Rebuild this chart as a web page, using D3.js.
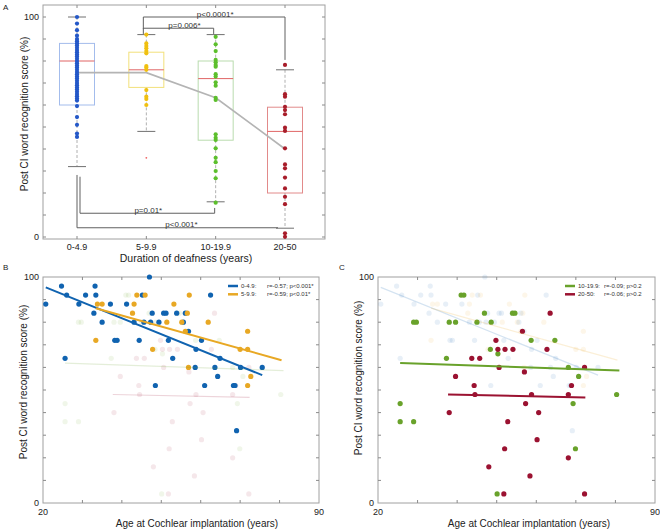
<!DOCTYPE html>
<html><head><meta charset="utf-8">
<script src="https://cdn.jsdelivr.net/npm/d3@7"></script>
<style>body{margin:0;background:#fff}svg{display:block;font-family:"Liberation Sans",Arial,sans-serif}</style>
</head><body><svg id="c" width="660" height="529"></svg>
<script>
// ---------- Panel A data ----------
const groups = ["0-4.9", "5-9.9", "10-19.9", "20-50"];
const dotsA = [
  [100, 97, 94, 91.5, 90, 89, 88, 87, 86, 85, 84, 83, 82, 81, 80, 79, 78, 77, 76, 75, 74, 73, 72, 71, 70, 69, 68, 67, 66, 65, 64, 63, 62, 59.5, 54.5, 51, 47, 45.5],
  [92, 88, 86.8, 85.8, 84.5, 83.5, 77.7, 77, 76, 66.8, 63.8, 62.7, 60],
  [91, 87.6, 84.5, 80.5, 79.4, 78.2, 77.4, 74, 72.9, 70.3, 68.8, 63.3, 62.3, 46.7, 45.1, 44.1, 40.3, 36, 34, 30, 26.7, 15.6],
  [78.2, 64.9, 63.8, 59.2, 57.7, 55.8, 49.7, 48.2, 40.3, 33, 31.2, 27, 22.1, 18.3, 14.9, 1.7, 0.1]
];
const lowerWhisker = [32, 48, 16, 4];
const q1 = [60, 68, 44, 20];
const medians = [80, 76, 72, 48];
const q3 = [88, 84, 80, 59];
const upperWhisker = [100, 92, 92, 76];
const outliers = [[], [36], [], []];
const means = [74.7, 74.7, 63.3, 40];
// brackets: from group, to group, line level, left drop end, right drop end (null = none), label
const bracketFrom = [1, 1, 0, 0];
const bracketTo = [3, 2, 2, 3];
const bracketLevel = [100, 94.9, 10.8, 4.2];
const bracketDropL = [94.5, 92.3, 27.4, 28.2];
const bracketDropR = [80.5, 92.3, 13.2, null];
const bracketLabel = ["p<0.0001*", "p=0.006*", "p=0.01*", "p<0.001*"];

// ---------- Panels B/C data (age, score) ----------
const ageG1 = [20.7,24.7,26,25.6,29.1,30.8,33.2,33.4,32.9,35,37.1,38.2,38.8,41.2,43.1,44.4,45.2,45.6,47,47.3,47.7,48.5,49.4,50.6,51.2,51.8,52.9,53.9,55.6,56.1,56.9,58.8,58.6,60.2,61,62.5,63.6,64.3,64.9,68.3,68.7,69.1,70.1,75.6];
const scoreG1 = [88,96,92,64,88,92,96,92,84,80,88,72,72,88,80,72,92,80,100,80,84,52,80,84,84,72,64,84,80,84,76,68,60,72,52,92,60,56,64,52,52,32,60,60];
const ageG2 = [33.8,35,33.4,42.7,43.1,43.8,45.9,47.8,51.4,53.2,55.2,56.1,56.6,56.9,57.1,61.9,70,71.9,71.9,71.9,72.7];
const scoreG2 = [88,88,72,84,88,92,92,68,80,88,80,76,84,60,92,80,68,76,68,52,56];
const ageG3 = [25.6,25.6,29,29,29.7,37.3,38,39.6,41,41.7,45,46.9,48.6,48.4,50.3,50.1,54,54.6,58.7,64.7,68.1,70.7,69.3,69.9,80.3];
const scoreG3 = [44,36,36,80,80,64,80,80,92,92,80,84,80,68,66,4,84,84,72,72,60,56,44,24,48];
const ageG4 = [38,39.6,43.7,44.3,44.5,45.7,48,49.8,50.3,50.6,51.8,52,52.1,52.8,54.1,56.5,57,57.3,58.4,58.8,60.2,60.6,62.7,63.5,68.1,68.1,68.9,72.2,72.2];
const scoreG4 = [40,56,64,52,48,64,16,72,68,60,4,24,68,36,68,76,58,44,12,48,28,40,68,84,20,48,52,60,4];
// regression line ends
const fitAgeStart = [20.7, 33.4, 25.6, 37.7];
const fitAgeEnd = [75.6, 80.5, 81, 72.4];
const fitScoreStart = [95.4, 86.2, 61.9, 48];
const fitScoreEnd = [56.6, 63.2, 58.6, 46.7];
const legendR = ["r=-0.57; p<0.001*", "r=-0.59; p<0.01*", "r=-0.09; p>0.2", "r=-0.06; p>0.2"];

const colorsA = ["#2458c8", "#f0c010", "#5cbf2c", "#a81d2a"];
const boxColors = ["#a3bcec", "#f2e07a", "#b9dcae", "#e28a8a"];
const colorsB = ["#1063b0", "#e8a824", "#69a22b", "#9b1231"];

const svg = d3.select("#c");
const frameCol = "#a0a0a0", tickCol = "#8a8a8a";

// ================= Panel A =================
(function(){
  const L = 43, R = 325, T = 5, B = 239;
  const x = d3.scalePoint().domain(groups).range([77, 285]);
  const y = d3.scaleLinear().domain([0, 100]).range([237, 17]);
  const g = svg.append("g");
  g.append("text").attr("x", 3).attr("y", 10).attr("font-size", 8).attr("fill", "#222").text("A");
  g.append("rect").attr("x", L).attr("y", T).attr("width", R - L).attr("height", B - T).attr("fill", "none").attr("stroke", frameCol);
  // ticks
  d3.range(0, 101, 10).forEach(v => {
    g.append("line").attr("x1", L).attr("x2", L + 3).attr("y1", y(v)).attr("y2", y(v)).attr("stroke", tickCol);
    g.append("line").attr("x1", R).attr("x2", R - 3).attr("y1", y(v)).attr("y2", y(v)).attr("stroke", tickCol);
  });
  groups.forEach(c => {
    g.append("line").attr("x1", x(c)).attr("x2", x(c)).attr("y1", T).attr("y2", T + 3).attr("stroke", tickCol);
    g.append("line").attr("x1", x(c)).attr("x2", x(c)).attr("y1", B).attr("y2", B - 3).attr("stroke", tickCol);
    g.append("text").attr("x", x(c)).attr("y", 250).attr("text-anchor", "middle").attr("font-size", 9).attr("fill", "#222").text(c);
  });
  [0, 100].forEach(v => g.append("text").attr("x", 39).attr("y", y(v) + 3).attr("text-anchor", "end").attr("font-size", 9).attr("fill", "#222").text(v));
  g.append("text").attr("x", 186).attr("y", 262).attr("text-anchor", "middle").attr("font-size", 10.5).attr("fill", "#222").text("Duration of deafness (years)");
  g.append("text").attr("transform", "translate(28,114) rotate(-90)").attr("text-anchor", "middle").attr("font-size", 10).attr("fill", "#222").text("Post CI word recognition score (%)");

  const hw = 17.5;
  groups.forEach((c, i) => {
    const cx = x(c);
    g.append("line").attr("x1", cx).attr("x2", cx).attr("y1", y(upperWhisker[i])).attr("y2", y(q3[i])).attr("stroke", "#b0b0b0").attr("stroke-dasharray", "3,2");
    g.append("line").attr("x1", cx).attr("x2", cx).attr("y1", y(q1[i])).attr("y2", y(lowerWhisker[i])).attr("stroke", "#b0b0b0").attr("stroke-dasharray", "3,2");
    [upperWhisker[i], lowerWhisker[i]].forEach(v =>
      g.append("line").attr("x1", cx - 9).attr("x2", cx + 9).attr("y1", y(v)).attr("y2", y(v)).attr("stroke", "#707070"));
    g.append("rect").attr("x", cx - hw).attr("y", y(q3[i])).attr("width", 2 * hw).attr("height", y(q1[i]) - y(q3[i]))
      .attr("fill", "none").attr("stroke", boxColors[i]);
    g.append("line").attr("x1", cx - hw).attr("x2", cx + hw).attr("y1", y(medians[i])).attr("y2", y(medians[i])).attr("stroke", "#e06565");
    outliers[i].forEach(v => g.append("circle").attr("cx", cx).attr("cy", y(v)).attr("r", 0.9).attr("fill", "#f06060"));
  });
  // mean line
  g.append("path").datum(means).attr("fill", "none").attr("stroke", "#b4b4b4").attr("stroke-width", 1.6)
    .attr("d", d3.line().x((d, i) => x(groups[i])).y(d => y(d)));
  // dots
  groups.forEach((c, i) => {
    g.selectAll(null).data(dotsA[i]).join("circle").attr("cx", x(c)).attr("cy", d => y(d)).attr("r", 2.1).attr("fill", colorsA[i]);
  });
  // brackets
  bracketLabel.forEach((lab, k) => {
    const off = k < 2 ? -3 : 3;
    const x1 = x(groups[bracketFrom[k]]) + (k === 3 ? 0 : off);
    const x2 = x(groups[bracketTo[k]]) + (k === 1 ? -2 : (k === 2 ? -1 : (k === 3 ? -7 : 0)));
    const yl = y(bracketLevel[k]);
    let p = `M${x1},${y(bracketDropL[k])}V${yl}H${x2}`;
    if (bracketDropR[k] !== null) p += `V${y(bracketDropR[k])}`;
    g.append("path").attr("d", p).attr("fill", "none").attr("stroke", "#606060").attr("stroke-width", 1);
    g.append("text").attr("x", (x1 + x2) / 2 + (k === 1 ? 6 : (k === 3 ? 4 : 1))).attr("y", yl - 0.5).attr("text-anchor", "middle")
      .attr("font-size", 8).attr("fill", "#333").text(lab);
  });
})();

// ================= Panels B and C =================
const ages = [ageG1, ageG2, ageG3, ageG4];
const scores = [scoreG1, scoreG2, scoreG3, scoreG4];
function scatterPanel(L, R, letter, lx, vivid, legendX, titleX, yTitleX, yTitleY) {
  const T = 277, B = 503;
  const x = d3.scaleLinear().domain([20, 90]).range([L, R]);
  const y = d3.scaleLinear().domain([0, 100]).range([B, T]);
  const g = svg.append("g");
  g.append("text").attr("x", lx).attr("y", 270).attr("font-size", 8).attr("fill", "#222").text(letter);
  g.append("rect").attr("x", L).attr("y", T).attr("width", R - L).attr("height", B - T).attr("fill", "none").attr("stroke", frameCol);
  d3.range(10, 100, 10).forEach(v => {
    g.append("line").attr("x1", L).attr("x2", L + 3).attr("y1", y(v)).attr("y2", y(v)).attr("stroke", tickCol);
    g.append("line").attr("x1", R).attr("x2", R - 3).attr("y1", y(v)).attr("y2", y(v)).attr("stroke", tickCol);
  });
  d3.range(30, 90, 10).forEach(v => {
    g.append("line").attr("x1", x(v)).attr("x2", x(v)).attr("y1", B).attr("y2", B - 3).attr("stroke", tickCol);
    g.append("line").attr("x1", x(v)).attr("x2", x(v)).attr("y1", T).attr("y2", T + 3).attr("stroke", tickCol);
  });
  g.append("text").attr("x", L - 4).attr("y", y(100) + 3).attr("text-anchor", "end").attr("font-size", 9).attr("fill", "#222").text("100");
  g.append("text").attr("x", L - 4).attr("y", y(0) + 3).attr("text-anchor", "end").attr("font-size", 9).attr("fill", "#222").text("0");
  [20, 90].forEach(v => g.append("text").attr("x", x(v)).attr("y", 515).attr("text-anchor", "middle").attr("font-size", 9).attr("fill", "#222").text(v));
  g.append("text").attr("x", titleX).attr("y", 527).attr("text-anchor", "middle").attr("font-size", 10).attr("fill", "#222").text("Age at Cochlear implantation (years)");
  g.append("text").attr("transform", `translate(${yTitleX},${yTitleY}) rotate(-90)`).attr("text-anchor", "middle").attr("font-size", 10).attr("fill", "#222").text("Post CI word recognition score (%)");

  const order = [0, 1, 2, 3].filter(i => !vivid.includes(i)).concat(vivid);
  order.forEach(i => {
    const on = vivid.includes(i);
    const pts = ages[i].map((a, j) => [a, scores[i][j]]);
    g.selectAll(null).data(pts).join("circle").attr("cx", d => x(d[0])).attr("cy", d => y(d[1])).attr("r", 2.6)
      .attr("fill", colorsB[i]).attr("fill-opacity", on ? 1 : 0.1);
  });
  order.forEach(i => {
    const on = vivid.includes(i);
    g.append("line").attr("x1", x(fitAgeStart[i])).attr("y1", y(fitScoreStart[i])).attr("x2", x(fitAgeEnd[i])).attr("y2", y(fitScoreEnd[i]))
      .attr("stroke", colorsB[i]).attr("stroke-width", on ? 2 : 1.2).attr("stroke-opacity", on ? 1 : 0.18);
  });
  vivid.forEach((i, k) => {
    const ly = 286 + k * 8.3;
    g.append("line").attr("x1", legendX).attr("x2", legendX + 10).attr("y1", ly).attr("y2", ly).attr("stroke", colorsB[i]).attr("stroke-width", 2.5);
    g.append("text").attr("x", legendX + 13).attr("y", ly + 2).attr("font-size", 6).attr("fill", "#333").text(groups[i] + ":");
    g.append("text").attr("x", legendX + 39).attr("y", ly + 2).attr("font-size", 6).attr("fill", "#333").text(legendR[i]);
  });
}
scatterPanel(43, 319, "B", 3, [0, 1], 228, 197, 27, 382);
scatterPanel(378, 655, "C", 339, [2, 3], 565, 529, 362, 378);
</script></body></html>
